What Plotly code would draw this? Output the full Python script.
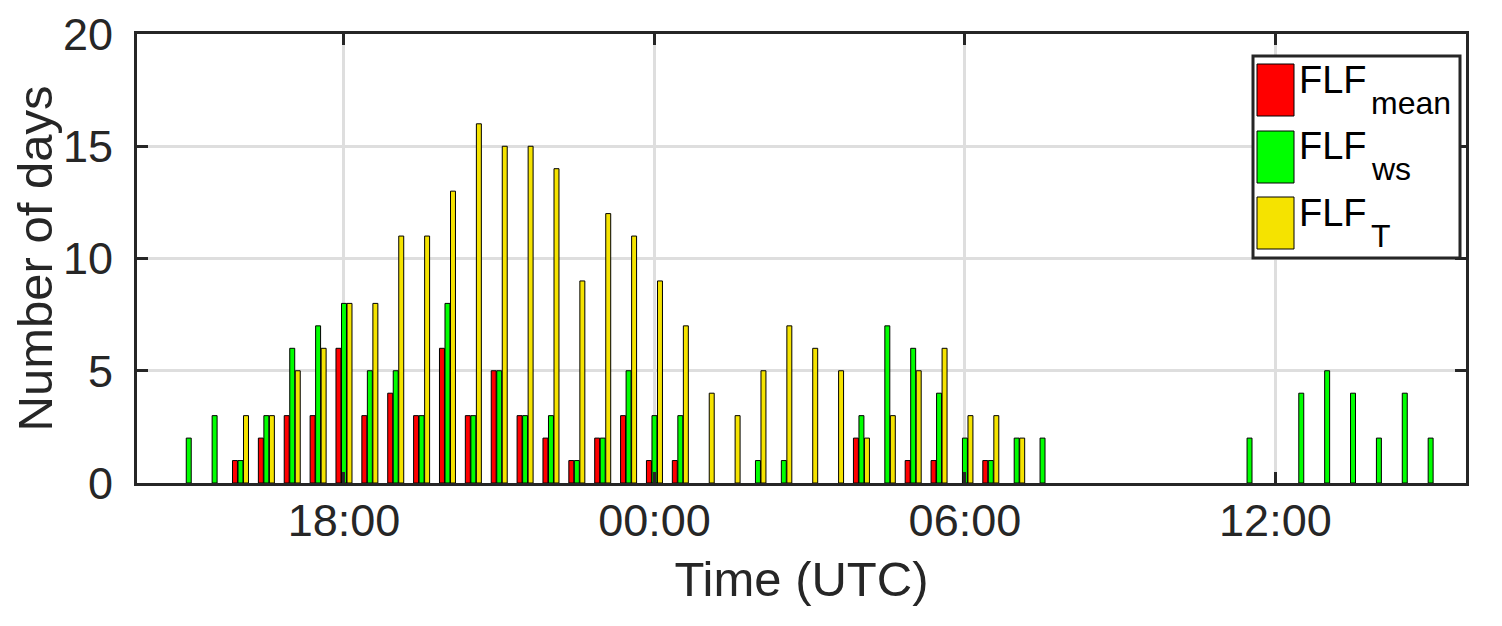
import pandas as pd
import plotly.graph_objects as go

# half-hourly slots from 15:00 to 15:00 the next day
times = pd.date_range("2000-01-01 15:00", "2000-01-02 15:00", freq="30min")

flf_mean = [0, 0, 1, 2, 3, 3, 6, 3, 4, 3,
            6, 3, 5, 3, 2, 1, 2, 3, 1, 1,
            0, 0, 0, 0, 0, 0, 2, 0, 1, 1,
            0, 1, 0, 0,
            0, 0, 0, 0, 0, 0, 0,
            0, 0, 0, 0, 0, 0, 0, 0]
flf_ws = [2, 3, 1, 3, 6, 7, 8, 5, 5, 3,
          8, 3, 5, 3, 3, 1, 2, 5, 3, 3,
          0, 0, 1, 1, 0, 0, 3, 7, 6, 4,
          2, 1, 2, 2,
          0, 0, 0, 0, 0, 0, 0,
          2, 0, 4, 5, 4, 2, 4, 2]
flf_t = [0, 0, 3, 3, 5, 6, 8, 8, 11, 11,
         13, 16, 15, 15, 14, 9, 12, 11, 9, 7,
         4, 3, 5, 7, 6, 5, 2, 3, 5, 6,
         3, 3, 2, 0,
         0, 0, 0, 0, 0, 0, 0,
         0, 0, 0, 0, 0, 0, 0, 0]

series_names = ["mean", "ws", "T"]
series_values = [flf_mean, flf_ws, flf_t]
colors = ["#ff0000", "#00ff00", "#f5e300"]

FONT = "Liberation Sans, Arial, sans-serif"
AX = "#262626"

# the page body adds an 8 px offset, so margins are shifted to compensate
OFF = 8

fig = go.Figure()
for name, vals, col in zip(series_names, series_values, colors):
    fig.add_trace(
        go.Bar(
            x=times,
            # empty slots are left out so no flat outline is drawn on the axis
            y=[v if v else None for v in vals],
            name=f"FLF<sub>{name}</sub>",
            marker=dict(color=col, line=dict(color="black", width=1)),
            showlegend=False,
        )
    )

axis_common = dict(
    automargin=False,
    showline=True,
    linecolor=AX,
    linewidth=3,
    mirror="ticks",
    ticks="inside",
    ticklen=11,
    tickwidth=3,
    tickcolor=AX,
    showgrid=True,
    gridcolor="#dedede",
    gridwidth=2.5,
    zeroline=False,
    tickfont=dict(family=FONT, size=45, color=AX),
    title_font=dict(family=FONT, size=49, color=AX),
)

fig.update_xaxes(
    type="date",
    range=["2000-01-01 14:00", "2000-01-02 15:41"],
    tick0="2000-01-01 00:00",
    dtick=6 * 3600 * 1000,
    tickformat="%H:%M",
    title_text="Time (UTC)",
    title_standoff=17,
    ticklabelstandoff=-4,
    **axis_common,
)
fig.update_yaxes(
    range=[0, 20],
    dtick=5,
    title_text="Number of days",
    ticklabelstandoff=12,
    **axis_common,
)

# legend drawn as a box with swatches, matching the original large patches
def px_x(v):
    return (v - 137) / 1329


def px_y(v):
    return (483 - v) / 449


shapes = [
    dict(type="rect", xref="paper", yref="paper",
         x0=px_x(1253), x1=px_x(1460), y0=px_y(56), y1=px_y(258),
         fillcolor="white", line=dict(color=AX, width=3)),
]
annotations = []
row_top = [64, 131, 197]
for i, (name, col) in enumerate(zip(series_names, colors)):
    top = row_top[i]
    shapes.append(dict(type="rect", xref="paper", yref="paper",
                       x0=px_x(1257), x1=px_x(1294), y0=px_y(top), y1=px_y(top + 52),
                       fillcolor=col, line=dict(color="black", width=1)))
    base = 93 + i * 66.5
    annotations.append(dict(xref="paper", yref="paper", x=px_x(1297), y=px_y(base - 13.2),
                            xanchor="left", yanchor="middle", showarrow=False,
                            text="FLF", font=dict(family=FONT, size=38, color="black")))
    annotations.append(dict(xref="paper", yref="paper", x=px_x(1369), y=px_y(base + 21 - 11.1),
                            xanchor="left", yanchor="middle", showarrow=False,
                            text=name, font=dict(family=FONT, size=32, color="black")))

fig.update_layout(
    width=1502,
    height=626,
    barmode="group",
    bargap=0.36,
    bargroupgap=0.1,
    plot_bgcolor="white",
    paper_bgcolor="white",
    margin=dict(l=137 - OFF, r=36 + OFF, t=34 - OFF, b=143 + OFF),
    font=dict(family=FONT, color=AX),
    shapes=shapes,
    annotations=annotations,
)

fig.write_html("out.html")
